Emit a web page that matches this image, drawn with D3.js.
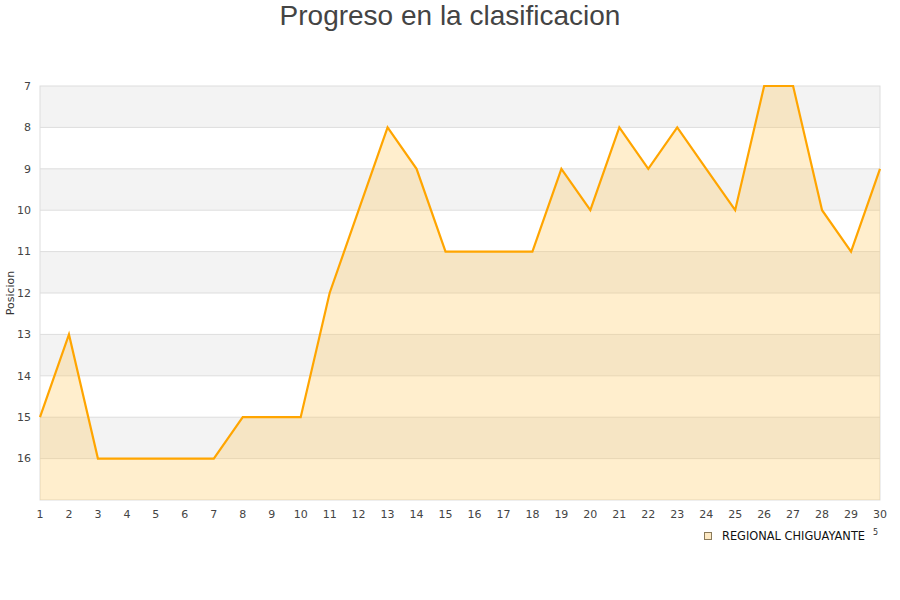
<!DOCTYPE html>
<html><head><meta charset="utf-8">
<script src="https://cdn.jsdelivr.net/npm/d3@7"></script>
<style>body{margin:0;background:#fff}</style>
</head><body>
<script>
const jornadas = d3.range(1, 31);
const posiciones = [15,13,16,16,16,16,16,15,15,15,12,10,8,9,11,11,11,11,9,10,8,9,8,9,10,7,7,10,11,9];
const yTicks = [7,8,9,10,11,12,13,14,15,16];
const seriesName = "REGIONAL CHIGUAYANTE";
const title = "Progreso en la clasificacion";
const yLabel = "Posicion";

const W = 900, H = 600;
const m = {l:40, r:20, t:86, b:100};
const svg = d3.select("body").append("svg").attr("width", W).attr("height", H);
const x = d3.scaleLinear().domain([1,30]).range([m.l, W-m.r]);
const y = d3.scaleLinear().domain([7,17]).range([m.t, H-m.b]);

const bands = d3.range(7,17);
svg.selectAll("rect.band").data(bands).enter().append("rect")
  .attr("x", x(1)).attr("width", x(30)-x(1))
  .attr("y", d=>y(d)).attr("height", d=>y(d+1)-y(d))
  .attr("fill", (d,i)=> i%2===0 ? "#f3f3f3" : "#ffffff");
svg.selectAll("line.grid").data(yTicks.slice(1)).enter().append("line")
  .attr("x1", x(1)).attr("x2", x(30)).attr("y1", d=>y(d)).attr("y2", d=>y(d))
  .attr("stroke", "#dddddd").attr("stroke-width", 1);
svg.append("rect").attr("x", x(1)).attr("y", y(7)).attr("width", x(30)-x(1)).attr("height", y(17)-y(7))
  .attr("fill","none").attr("stroke","#dddddd").attr("stroke-width",1);

const pts = jornadas.map((j,i)=>({j, p:posiciones[i]}));
svg.append("path").datum(pts)
  .attr("d", d3.area().x(d=>x(d.j)).y0(y(17)).y1(d=>y(d.p)))
  .attr("fill", "rgba(255,200,90,0.3)");
svg.append("path").datum(pts)
  .attr("d", d3.line().x(d=>x(d.j)).y(d=>y(d.p)))
  .attr("fill","none").attr("stroke","#ffa500").attr("stroke-width",2.2);

svg.selectAll("text.yt").data(yTicks).enter().append("text")
  .attr("x", 31).attr("y", d=>y(d)).attr("dy","0.35em")
  .attr("text-anchor","end").attr("font-family","DejaVu Sans").attr("font-size",11).attr("fill","#444")
  .text(d=>d);
svg.selectAll("text.xt").data(jornadas).enter().append("text")
  .attr("x", d=>x(d)).attr("y", 518)
  .attr("text-anchor","middle").attr("font-family","DejaVu Sans").attr("font-size",11).attr("fill","#444")
  .text(d=>d);

svg.append("text").attr("x", 450).attr("y", 25).attr("text-anchor","middle")
  .attr("font-family","Liberation Sans, Arial").attr("font-size",28).attr("fill","#444").text(title);
svg.append("text").attr("transform","translate(14,293) rotate(-90)").attr("text-anchor","middle")
  .attr("font-family","DejaVu Sans").attr("font-size",11).attr("fill","#333").text(yLabel);

svg.append("rect").attr("x",704.5).attr("y",532.5).attr("width",7).attr("height",7)
  .attr("fill","#fde9c4").attr("stroke","#8a7a5a").attr("stroke-width",1);
svg.append("text").attr("x",722).attr("y",540).attr("font-family","DejaVu Sans").attr("font-size",11.4)
  .attr("fill","#111").text(seriesName);
svg.append("text").attr("x",873).attr("y",535).attr("font-family","DejaVu Sans").attr("font-size",8)
  .attr("fill","#333").text("5");
</script>
</body></html>
